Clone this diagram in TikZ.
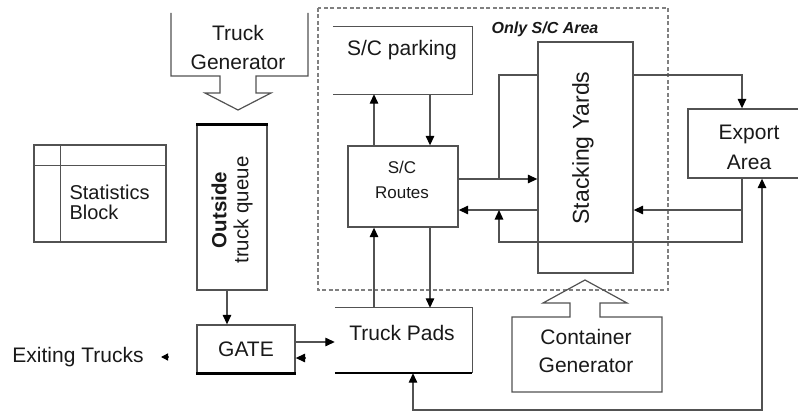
\documentclass[tikz,border=0pt]{standalone}
\usepackage{fontspec}
\setmainfont{Liberation Sans}
\usetikzlibrary{arrows.meta}
\begin{document}
\begin{tikzpicture}[x=1pt,y=-1pt,
  line/.style={draw=black!68, line width=1.3pt},
  arr/.style={line, -{Triangle[length=9.5pt,width=8.5pt,color=black]}},
  dblarr/.style={line, {Triangle[length=9.5pt,width=8.5pt,color=black]}-{Triangle[length=9.5pt,width=8.5pt,color=black]}},
  box/.style={line, rectangle, inner sep=0pt},
  blank/.style={rectangle, inner sep=0pt},
  lbl/.style={font=\fontsize{21}{24}\selectfont, text=black!90, align=center},
  heavy/.style={draw=black, line width=3pt},
  area/.style={draw=black!50, line width=1.1pt, dash pattern=on 4pt off 2.5pt}
]
\useasboundingbox (0,0) rectangle (798,412);

% S/C area boundary
\draw[area] (318,8) rectangle (668,290);
\node[font=\fontsize{16}{18}\selectfont\bfseries\itshape, text=black!90] (arealbl) at (545,29) {Only S/C Area};

% Truck generator (open-top block with a wide arrow below)
\draw[line, line width=1.2pt] (171,13) -- (171,76) -- (220,76) -- (220,93) -- (205,93) -- (238,110)
  -- (271,93) -- (256,93) -- (256,76) -- (308,76) -- (308,13);
\node[lbl, font=\fontsize{21}{29}\selectfont] (tgen) at (238,47) {Truck\\Generator};

% Statistics block
\node[box, minimum width=132, minimum height=97] (stats) at (100,193.5) {};
\draw[line] ([xshift=27pt]stats.north west) -- ([xshift=27pt]stats.south west);
\draw[line] ([yshift=-21pt]stats.north west) -- ([yshift=-21pt]stats.north east);
\node[lbl, font=\fontsize{20}{20}\selectfont, align=left, anchor=west] (statslbl) at (66,202) {Statistics\\Block};

% Outside truck queue
\node[box, minimum width=70, minimum height=165] (queue) at (232,207.5) {};
\draw[heavy] (queue.north west) -- (queue.north east);
\node[lbl, rotate=90, font=\fontsize{20.5}{22}\selectfont] (queuelbl) at (232,210) {\textbf{Outside}\\truck queue};

% Gate
\node[box, lbl, minimum width=98, minimum height=48] (gate) at (246,349) {GATE};
\draw[heavy, line width=2.5pt] (gate.south west) -- (gate.south east);

% Exiting trucks
\node[lbl, font=\fontsize{21}{24}\selectfont] (exit) at (78,357) {Exiting Trucks};
\coordinate (exitA) at (168,357);
\coordinate (exitB) at (161,357);
\draw[line, -{Triangle[length=7pt,width=7pt,color=black]}] (exitA) -- (exitB);

% S/C parking (no left side)
\node[blank, minimum width=139, minimum height=67] (park) at (402.5,60.5) {};
\draw[line] (park.north west) -- (park.north east) -- (park.south east) -- (park.south west);
\node[lbl] (parklbl) at (402,50) {S/C parking};

% S/C routes
\node[box, minimum width=110, minimum height=81] (routes) at (403,186.5) {};
\node[lbl, font=\fontsize{17}{25}\selectfont] (routeslbl) at (402,179.5) {S/C\\Routes};

% Truck pads (no left side)
\node[blank, minimum width=137, minimum height=65] (pads) at (403.5,340.5) {};
\draw[line] (pads.north west) -- (pads.north east) -- (pads.south east);
\draw[heavy, line width=2.5pt] (pads.south west) -- (pads.south east);
\node[lbl] (padslbl) at (402,333) {Truck Pads};

% Stacking yards
\node[box, minimum width=95, minimum height=231] (stack) at (585.5,157.5) {};
\node[lbl, rotate=90, font=\fontsize{23}{24}\selectfont] (stacklbl) at (583,148) {Stacking Yards};

% Export area
\node[box, minimum width=122, minimum height=69] (export) at (749,143.5) {};
\node[lbl, font=\fontsize{21}{30}\selectfont] (exportlbl) at (749,147.5) {Export\\Area};

% Container generator (block with a wide arrow on top)
\draw[line, line width=1.2pt] (570,317) -- (512,317) -- (512,392) -- (662,392) -- (662,317) -- (600,317)
  -- (600,303) -- (627,303) -- (585,280) -- (543,303) -- (570,303) -- cycle;
\node[lbl, font=\fontsize{21}{28}\selectfont] (cgen) at (586,351) {Container\\Generator};

% Queue -> gate, gate <-> pads
\draw[arr] ([xshift=-5pt]queue.south) -- ([xshift=-5pt]queue.south |- gate.north);
\draw[arr] ([yshift=7pt]gate.east) -- ([yshift=7pt]gate.east -| pads.west);
\draw[arr] ([xshift=10pt,yshift=-9pt]gate.east) -- ([yshift=-9pt]gate.east);

% Parking <-> routes <-> pads
\draw[arr] ([xshift=-29pt]routes.north) -- ([xshift=-29pt]routes.north |- park.south);
\draw[arr] ([xshift=27pt]routes.north |- park.south) -- ([xshift=27pt]routes.north);
\draw[arr] ([xshift=-29pt]routes.south |- pads.north) -- ([xshift=-29pt]routes.south);
\draw[arr] ([xshift=27pt]routes.south) -- ([xshift=27pt]routes.south |- pads.north);

% Routes <-> stacking yards
\coordinate (j1) at (499,179);
\coordinate (b1) at (499,75);
\draw[arr] ([yshift=7.5pt]routes.east) -- ([yshift=7.5pt]routes.east -| stack.west);
\draw[line] (j1) -- (b1) -- (b1 -| stack.west);
\draw[arr] ([yshift=-23.5pt]routes.east -| stack.west) -- ([yshift=-23.5pt]routes.east);

% Export area -> stacking yards and routes
\coordinate (e2) at (742,242);
\coordinate (e3) at (499,242);
\coordinate (e4) at (499,210);
\coordinate (e5) at (742,210);
\coordinate (e6) at (742,75);
\draw[arr] ([xshift=-7pt]export.south) -- (e2) -- (e3) -- (e4);
\draw[arr] (e5) -- (e5 -| stack.east);
\draw[arr] (e6 -| stack.east) -- (e6) -- ([xshift=-7pt]export.north);

% Truck pads <-> export area
\coordinate (p1) at (413,410);
\coordinate (p2) at (762,410);
\draw[dblarr] ([xshift=9.5pt]pads.south) -- (p1) -- (p2) -- ([xshift=13pt]export.south);
\end{tikzpicture}
\end{document}
